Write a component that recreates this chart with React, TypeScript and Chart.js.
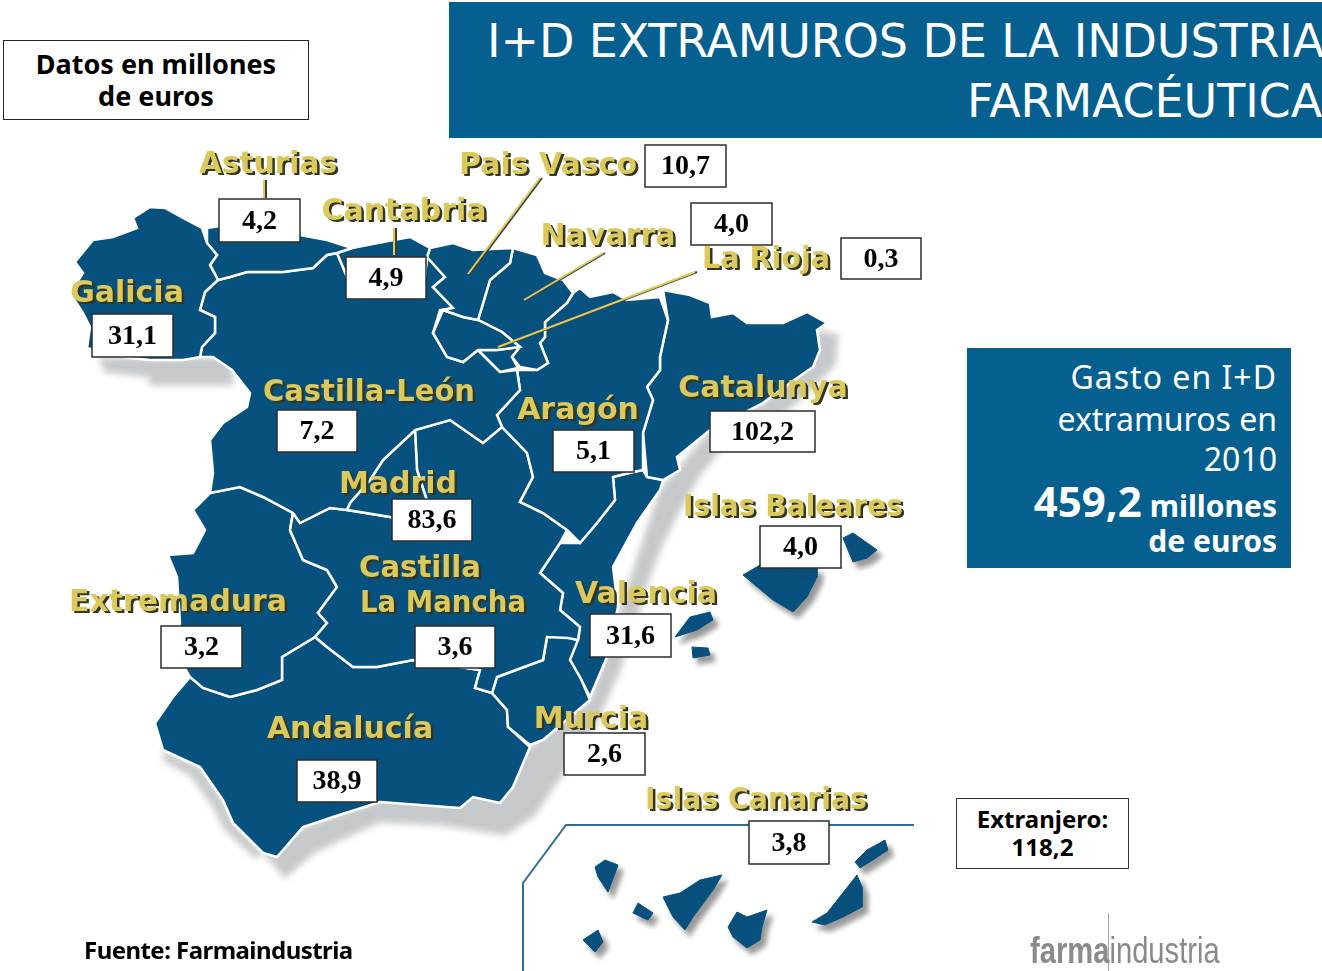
import React, { useEffect, useRef } from "react";
import { Chart, registerables } from "chart.js";

type P = [number, number];

// ---- data ----
const regionNames = ["Galicia", "Asturias", "Cantabria", "Pais Vasco", "Navarra", "La Rioja", "Castilla-León", "Aragón", "Catalunya", "Madrid", "Castilla|La Mancha", "Extremadura", "Valencia", "Islas Baleares", "Andalucía", "Murcia", "Islas Canarias"];
const regionValues = ["31,1", "4,2", "4,9", "10,7", "4,0", "0,3", "7,2", "5,1", "102,2", "83,6", "3,6", "3,2", "31,6", "4,0", "38,9", "2,6", "3,8"];
const abroadLabel = "Extranjero:";
const abroadValue = "118,2";
const totalValue = "459,2";

// ---- map geometry, in the picture's own units ----
const galicia: P[] = [[150,207],[165,208],[183,218],[202,228],[207,243],[217,255],[210,265],[218,280],[205,292],[200,310],[215,317],[215,333],[202,347],[200,357],[183,360],[150,360],[123,357],[87,348],[90,327],[83,313],[70,293],[83,273],[75,262],[93,240],[113,237],[137,228],[133,218]];
const asturias: P[] = [[207,228],[220,226],[300,235],[327,240],[352,248],[337,253],[327,255],[313,268],[283,272],[270,272],[247,272],[230,277],[218,280],[210,265],[217,255],[207,243]];
const cantabria: P[] = [[352,248],[383,242],[410,237],[430,248],[427,257],[424,285],[350,285],[345,272],[337,253]];
const paisVasco: P[] = [[430,248],[453,243],[473,250],[513,248],[510,263],[490,280],[478,320],[463,317],[443,310],[453,308],[433,287],[445,277],[427,257]];
const alava: P[] = [[443,310],[463,317],[478,320],[502,332],[520,347],[497,350],[478,350],[463,362],[447,357],[433,333]];
const navarra: P[] = [[513,248],[537,255],[545,273],[563,280],[573,293],[567,303],[545,322],[545,337],[540,343],[548,363],[537,370],[520,367],[512,357],[520,347],[502,332],[478,320],[490,280],[510,263]];
const rioja: P[] = [[478,350],[497,350],[520,347],[512,357],[518,368],[500,372],[490,362]];
const castillaLeon: P[] = [[218,280],[230,277],[247,272],[270,272],[283,272],[313,268],[327,255],[337,253],[345,272],[350,285],[424,285],[427,257],[445,277],[433,287],[453,308],[440,310],[433,333],[447,357],[463,362],[478,350],[490,362],[500,372],[517,370],[520,390],[497,415],[502,427],[483,443],[450,420],[415,430],[383,460],[370,480],[350,503],[347,510],[330,508],[300,523],[293,513],[263,497],[240,487],[210,493],[213,473],[210,440],[223,423],[247,407],[250,393],[232,370],[213,357],[200,357],[202,347],[215,333],[215,317],[200,310],[205,292]];
const aragon: P[] = [[573,293],[580,288],[590,297],[613,292],[627,300],[660,297],[668,320],[660,357],[660,370],[647,387],[653,400],[643,433],[643,470],[633,472],[613,477],[615,500],[597,523],[580,543],[567,530],[543,513],[520,502],[533,477],[527,453],[502,427],[497,415],[520,390],[517,370],[537,370],[548,363],[540,343],[545,337],[545,322],[567,303]];
const catalunya: P[] = [[663,290],[690,295],[710,303],[712,317],[733,313],[747,323],[783,323],[807,312],[827,323],[817,330],[820,350],[813,367],[790,383],[763,403],[710,430],[677,457],[680,470],[663,480],[647,477],[643,433],[653,400],[647,387],[660,370],[660,357],[668,320]];
const madrid: P[] = [[415,430],[417,470],[430,510],[400,520],[390,517],[360,512],[347,510],[350,503],[370,480],[383,460]];
const laMancha: P[] = [[415,430],[450,420],[483,443],[502,427],[527,453],[533,477],[520,502],[543,513],[567,530],[560,543],[540,573],[563,593],[560,610],[580,627],[578,640],[568,638],[547,637],[543,660],[497,677],[492,693],[475,688],[480,670],[413,660],[377,667],[353,667],[327,647],[315,637],[327,623],[318,613],[337,587],[327,570],[303,560],[290,530],[293,513],[300,523],[330,508],[347,510],[390,517],[430,510],[417,470]];
const extremadura: P[] = [[240,487],[263,497],[293,513],[290,530],[303,560],[327,570],[337,587],[318,613],[327,623],[315,637],[282,657],[282,680],[257,690],[230,697],[203,688],[190,677],[173,647],[180,623],[177,577],[168,555],[193,553],[205,530],[193,510],[210,493]];
const valencia: P[] = [[647,477],[663,480],[660,490],[637,523],[613,567],[618,607],[607,657],[590,697],[580,677],[570,660],[578,640],[580,627],[560,610],[563,593],[540,573],[560,543],[580,543],[597,523],[615,500],[613,477],[633,472],[643,470]];
const murcia: P[] = [[547,637],[543,660],[497,677],[492,693],[507,710],[508,727],[530,745],[543,740],[590,700],[573,660],[578,640],[560,635]];
const andalucia: P[] = [[315,637],[282,657],[282,680],[257,690],[230,697],[203,688],[190,677],[173,697],[155,723],[163,750],[200,767],[223,800],[233,823],[263,853],[277,857],[303,827],[333,817],[380,802],[460,808],[473,797],[500,803],[513,787],[530,747],[508,727],[507,710],[492,693],[475,688],[480,670],[413,660],[377,667],[353,667],[327,647]];
const islands: P[][] = [
  [[743,575],[760,565],[817,568],[817,577],[807,597],[793,612],[773,600]],
  [[843,538],[853,533],[877,550],[867,558],[853,562]],
  [[675,637],[690,617],[710,612],[713,620],[697,630]],
  [[692,647],[708,648],[710,655],[693,658]],
  [[595,867],[605,860],[618,865],[608,892],[598,877]],
  [[633,913],[638,903],[653,913],[648,920]],
  [[583,940],[598,930],[603,942],[595,952]],
  [[663,897],[680,893],[700,880],[722,875],[713,890],[693,917],[685,930],[673,917]],
  [[737,912],[747,917],[767,910],[762,927],[760,940],[747,948],[733,937],[728,927]],
  [[812,922],[827,913],[857,875],[862,887],[862,907],[843,917],[825,925]],
  [[855,862],[867,850],[885,840],[888,850],[873,860],[860,868]],
];
const coastShadow: P[] = [[817,330],[838,335],[835,365],[800,400],[770,425],[725,445],[700,475],[680,510],[662,545],[645,590],[636,625],[618,675],[598,720],[578,755],[555,785],[535,815],[505,835],[440,825],[380,822],[315,852],[285,878],[263,853],[303,827],[530,747],[590,700],[660,490],[710,430],[763,403],[817,350]];
const westShadow: P[] = [[163,750],[200,767],[223,800],[233,823],[263,853],[255,858],[225,830],[212,805],[190,775],[165,762]];
const northShadow: P[] = [[100,358],[232,358],[232,385],[150,385],[150,377],[105,372]];
const canaryFrame: P[] = [[523,971],[523,883],[566,825],[914,825]];
const leaders: P[][] = [
  [[264,180],[264,198]],
  [[394,228],[394,255]],
  [[540,178],[468,274]],
  [[603,253],[524,300]],
  [[695,272],[498,347]],
];

// ---- layout of the label boxes and names, same order as regionNames ----
const boxes: [number, number, number, number][] = [[92,314,173,357],[219,199,300,242],[346,257,426,299],[645,145,726,187],[691,203,772,245],[841,238,921,279],[277,410,357,452],[553,430,634,472],[710,411,815,452],[392,499,472,541],[415,626,495,668],[161,626,242,668],[590,614,671,657],[760,526,841,568],[297,760,377,802],[564,733,645,775],[749,821,829,864]];
const nameAt: [number, number, number][] = [[127,294,116],[268,165,138],[404,212,168],[548,166,178],[608,237,144],[766,260,128],[369,393,212],[578,411,124],[763,389,174],[398,485,122],[420,569,122],[178,603,218],[646,595,142],[793,508,220],[350,730,168],[591,720,116],[756,801,222]];

const BLUE = "#07517f";
const HEAD = "#05608f";

const shadowPlugin = {
  id: "mapShadow",
  beforeDatasetDraw(chart: any, args: any) {
    const ds = chart.data.datasets[args.index];
    const ctx = chart.ctx;
    ctx.save();
    if (ds.soft) ctx.filter = "blur(3px)";
    if (ds.drop) {
      ctx.shadowColor = "rgba(70,70,70,0.55)";
      ctx.shadowOffsetX = 5;
      ctx.shadowOffsetY = 6;
      ctx.shadowBlur = 5;
    }
  },
  afterDatasetDraw(chart: any) {
    chart.ctx.restore();
  },
};
Chart.register(shadowPlugin);
Chart.register(...registerables);

const labelsPlugin = {
  id: "mapLabels",
  afterDatasetsDraw(chart: any) {
    const { ctx, scales } = chart;
    const X = (v: number) => scales.x.getPixelForValue(v);
    const Y = (v: number) => scales.y.getPixelForValue(v);
    ctx.save();
    ctx.textAlign = "center";
    ctx.textBaseline = "middle";
    regionNames.forEach((name, i) => {
      const [cx, cy, w] = nameAt[i];
      const parts = name.split("|");
      parts.forEach((part, k) => {
        const px = k === 1 ? X(443) : X(cx);
        const py = k === 1 ? Y(604) : Y(cy);
        const mw = k === 1 ? 166 : w;
        ctx.font = "bold 30px 'DejaVu Sans'";
        ctx.fillStyle = "#34351f";
        ctx.fillText(part, px + 2.5, py + 2.5, mw);
        ctx.fillStyle = "#dcc95e";
        ctx.fillText(part, px, py, mw);
      });
    });
    regionValues.forEach((v, i) => {
      const [x1, y1, x2, y2] = boxes[i];
      ctx.fillStyle = "#ffffff";
      ctx.strokeStyle = "#2b2b2b";
      ctx.lineWidth = 1.5;
      ctx.fillRect(X(x1), Y(y1), X(x2) - X(x1), Y(y2) - Y(y1));
      ctx.strokeRect(X(x1), Y(y1), X(x2) - X(x1), Y(y2) - Y(y1));
      ctx.fillStyle = "#000000";
      ctx.font = "bold 28px 'Liberation Serif'";
      ctx.fillText(v, (X(x1) + X(x2)) / 2, (Y(y1) + Y(y2)) / 2 + 1);
    });
    ctx.restore();
  },
};

const poly = (pts: P[], extra: any = {}) => ({
  data: [...pts, pts[0]].map(([x, y]) => ({ x, y })),
  showLine: true,
  fill: "shape",
  backgroundColor: BLUE,
  borderColor: "#ffffff",
  borderWidth: 2.5,
  pointRadius: 0,
  tension: 0,
  ...extra,
});
const open = (pts: P[], color: string, w: number, dx = 0) => ({
  data: pts.map(([x, y]) => ({ x: x + dx, y })),
  showLine: true,
  fill: false,
  borderColor: color,
  borderWidth: w,
  pointRadius: 0,
  tension: 0,
});

export default function App() {
  const ref = useRef<HTMLCanvasElement>(null);
  useEffect(() => {
    document.body.style.margin = "0";
    const grey = { backgroundColor: "#c6c9cb", borderColor: "#c6c9cb", borderWidth: 1, soft: true };
    const regions = [galicia, asturias, cantabria, paisVasco, alava, navarra, rioja, castillaLeon, aragon, catalunya, madrid, laMancha, extremadura, valencia, murcia, andalucia];
    const drawFirst = [poly(coastShadow, grey), poly(westShadow, grey), poly(northShadow, grey)];
    const mapped = regions.map((r) => poly(r));
    const isl = islands.map((r) => poly(r, { borderColor: BLUE, borderWidth: 1, drop: true }));
    const lines = leaders.flatMap((l) => [open(l, "#dcc95e", 2, 0), open(l, "#3c3f33", 2, 2)]);
    // first entry in the array is painted last
    const datasets = [...lines, ...mapped, ...isl, open(canaryFrame, "#2f6d97", 2), ...drawFirst];
    const chart = new Chart(ref.current!, {
      type: "scatter",
      data: { datasets: datasets as any },
      options: {
        animation: false,
        responsive: false,
        layout: { padding: 0 },
        scales: {
          x: { type: "linear", min: 0, max: 1322, display: false },
          y: { type: "linear", min: 0, max: 971, reverse: true, display: false },
        },
        plugins: { legend: { display: false }, tooltip: { enabled: false } },
      },
      plugins: [labelsPlugin],
    } as any);
    return () => chart.destroy();
  }, []);

  const abs = (l: number, t: number, w: number, h: number): React.CSSProperties => ({
    position: "absolute", left: l, top: t, width: w, height: h, boxSizing: "border-box",
  });
  const sans = "'Noto Sans', sans-serif";
  const line = (t: number, right: number, size: number, weight: number, text: React.ReactNode, sp = 0): React.ReactNode => (
    <div style={{ position: "absolute", right, top: t, whiteSpace: "nowrap", fontSize: size, fontWeight: weight, lineHeight: "40px", height: 40, letterSpacing: sp }}>{text}</div>
  );
  return (
    <div style={{ position: "relative", width: 1322, height: 971, overflow: "hidden", background: "#fff", color: "#000", fontFamily: sans }}>
      <canvas ref={ref} width={1322} height={971} style={{ position: "absolute", left: 0, top: 0 }} />
      <div style={{ ...abs(449, 2, 873, 136), background: HEAD, color: "#fff", overflow: "hidden" }}>
        <div style={{ position: "absolute", left: 38, top: 9, fontFamily: "'DejaVu Sans'", fontSize: 46, lineHeight: "60px", whiteSpace: "nowrap", letterSpacing: -0.1 }}>I+D EXTRAMUROS DE LA INDUSTRIA</div>
        <div style={{ position: "absolute", right: 0, top: 69, fontFamily: "'DejaVu Sans'", fontSize: 46, lineHeight: "60px", whiteSpace: "nowrap", letterSpacing: -0.1 }}>FARMACÉUTICA</div>
      </div>
      <div style={{ ...abs(3, 40, 306, 80), border: "1.5px solid #222", background: "#fff", textAlign: "center", fontWeight: 700, fontSize: 27, lineHeight: "32px", paddingTop: 7 }}>
        Datos en millones<br />de euros
      </div>
      <div style={{ ...abs(967, 348, 324, 220), background: HEAD, color: "#fff" }}>
        {line(9, 14, 32, 400, "Gasto en I+D", 1)}
        {line(51, 14, 32, 400, "extramuros en")}
        {line(91, 14, 32, 400, "2010")}
        {line(133, 14, 30, 700, <><span style={{ fontSize: 42 }}>{totalValue}</span> millones</>)}
        {line(173, 14, 30, 700, "de euros")}
      </div>
      <div style={{ ...abs(956, 798, 173, 71), border: "1.5px solid #333", background: "#fff", textAlign: "center", fontWeight: 700, fontSize: 24, lineHeight: "28px", paddingTop: 6 }}>
        {abroadLabel}<br />{abroadValue}
      </div>
      <div style={{ position: "absolute", left: 84, top: 935, fontWeight: 700, fontSize: 24, lineHeight: "30px", whiteSpace: "nowrap", letterSpacing: -0.55 }}>Fuente: Farmaindustria</div>
      <div style={{ ...abs(1108, 913, 1, 58), background: "#aaa" }} />
      <div style={{ position: "absolute", left: 1030, top: 931, fontFamily: "'Liberation Sans'", fontSize: 36, lineHeight: "40px", color: "#8a8a8a", whiteSpace: "nowrap", transform: "scaleX(0.81)", transformOrigin: "left center" }}>
        <span style={{ fontWeight: 700 }}>farma</span>industria
      </div>
    </div>
  );
}
